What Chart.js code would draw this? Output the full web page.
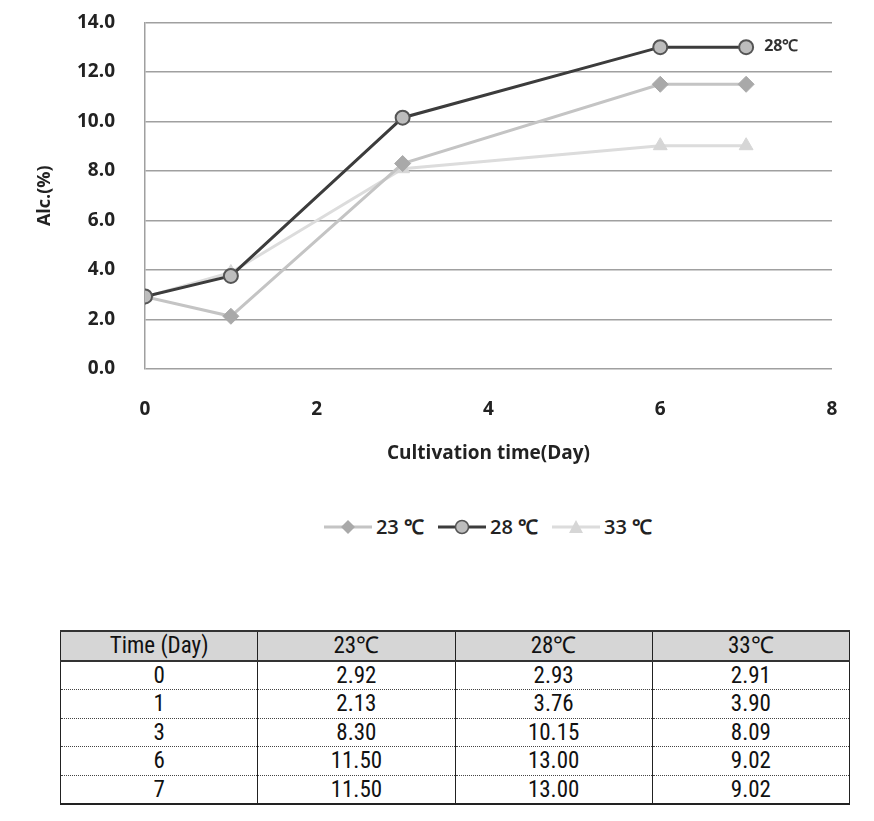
<!DOCTYPE html>
<html>
<head>
<meta charset="utf-8">
<script src="https://cdn.jsdelivr.net/npm/chart.js@4"></script>
<style>
  html, body { margin: 0; padding: 0; background: #fff; }
  body { width: 874px; height: 821px; position: relative; overflow: hidden; font-family: "Open Sans", sans-serif; }
  #chartBox { position: absolute; left: 0; top: -19px; width: 874px; height: 488px; }
  #legend { position: absolute; top: 513px; left: 0; width: 874px; display: flex; justify-content: center; gap: 12px; padding-left: 100px; box-sizing: border-box; }
  .legend-item { display: flex; align-items: center; font-size: 20px; font-weight: 600; color: #222; }
  .legend-item svg { margin-right: 2px; }
  #dataTable { position: absolute; left: 60px; top: 630px; width: 790px; border-collapse: collapse; table-layout: fixed;
    font-family: "Liberation Sans Narrow", "Arial Narrow", "Roboto Condensed", sans-serif; font-stretch: condensed; font-size: 23px; line-height: 1; color: #111; }
  #dataTable th, #dataTable td { text-align: center; padding: 0; height: 27.5px; border-left: 1.5px solid #222; border-right: 1.5px solid #222; font-weight: normal; }
  #dataTable th { background: #d6d6d6; border-top: 2px solid #333; border-bottom: 2px solid #333; }
  #dataTable td { border-bottom: 1.5px dotted #444; }
  #dataTable tr:last-child td { border-bottom: 2px solid #222; }
</style>
</head>
<body>
<div id="chartBox"><canvas id="alcChart" width="874" height="488"></canvas></div>
<div id="legend"></div>
<table id="dataTable"></table>
<script>
// ===== Data =====
const days = [0, 1, 3, 6, 7];
const temps = ['23℃', '28℃', '33℃'];
const alc23 = [2.92, 2.13, 8.30, 11.50, 11.50];
const alc28 = [2.93, 3.76, 10.15, 13.00, 13.00];
const alc33 = [2.91, 3.90, 8.09, 9.02, 9.02];
const yTicks = [0, 2, 4, 6, 8, 10, 12, 14];
const xTicks = [0, 2, 4, 6, 8];

const series = [
  { label: '23 ℃', values: alc23, line: '#c4c4c4', point: '#a9a9a9', border: '#a9a9a9', style: 'rectRot', order: 1 },
  { label: '28 ℃', values: alc28, line: '#3c3c3c', point: '#bdbdbd', border: '#555', style: 'circle', order: 0 },
  { label: '33 ℃', values: alc33, line: '#dcdcdc', point: '#d6d6d6', border: '#d6d6d6', style: 'triangle', order: 2 },
];

const FONT = "'Open Sans', sans-serif";

// ===== Label beside last 28℃ point =====
const endLabel = {
  id: 'endLabel',
  afterDatasetsDraw(chart) {
    const meta = chart.getDatasetMeta(1);
    const pt = meta.data[meta.data.length - 1];
    const ctx = chart.ctx;
    ctx.save();
    ctx.font = `bold 16px ${FONT}`;
    ctx.fillStyle = '#333';
    ctx.textBaseline = 'middle';
    ctx.fillText('28℃', pt.x + 18, pt.y - 1);
    ctx.restore();
  },
};

function renderChart() {
  const canvas = document.getElementById('alcChart');
  new Chart(canvas, {
    type: 'line',
    data: {
      datasets: series.map((s) => ({
        label: s.label,
        data: days.map((d, i) => ({ x: d, y: s.values[i] })),
        borderColor: s.line,
        borderWidth: 3,
        backgroundColor: s.point,
        pointBackgroundColor: s.point,
        pointBorderColor: s.border,
        pointBorderWidth: s.style === 'circle' ? 2 : 1,
        pointStyle: s.style,
        pointRadius: s.style === 'circle' ? 7 : 8,
        tension: 0,
        order: s.order,
      })),
    },
    options: {
      responsive: false,
      animation: false,
      layout: { padding: { left: 30, right: 42, top: 4, bottom: 0 } },
      plugins: { legend: { display: false }, tooltip: { enabled: false } },
      scales: {
        x: {
          type: 'linear',
          min: 0,
          max: 8,
          afterBuildTicks: (scale) => { scale.ticks = xTicks.map((v) => ({ value: v })); },
          afterFit: (scale) => { scale.height = 100; },
          grid: { display: false },
          border: { display: false },
          ticks: { padding: 21, color: '#222', font: { family: FONT, size: 19, weight: 'bold' } },
          title: { display: true, text: 'Cultivation time(Day)', color: '#222', padding: { top: 8 }, font: { family: FONT, size: 19, weight: 'bold' } },
        },
        y: {
          min: 0,
          max: 14,
          afterBuildTicks: (scale) => { scale.ticks = yTicks.map((v) => ({ value: v })); },
          afterFit: (scale) => { scale.width = 115; },
          grid: { color: '#a0a0a0', lineWidth: 1.5, drawTicks: false },
          border: { display: true, color: '#a0a0a0', width: 1.5 },
          ticks: { padding: 30, color: '#222', callback: (v) => v.toFixed(1), font: { family: FONT, size: 19, weight: 'bold' } },
          title: { display: true, text: 'Alc.(%)', color: '#222', padding: { bottom: 0 }, font: { family: FONT, size: 18, weight: 'bold' } },
        },
      },
    },
    plugins: [endLabel],
  });
}

// ===== Legend (line + marker) =====
function markerSvg(s) {
  let mark = '';
  if (s.style === 'rectRot') mark = `<polygon points="26,3 33,10 26,17 19,10" fill="${s.point}"/>`;
  else if (s.style === 'circle') mark = `<circle cx="26" cy="10" r="6.5" fill="${s.point}" stroke="${s.border}" stroke-width="1.5"/>`;
  else mark = `<polygon points="26,3 33,16 19,16" fill="${s.point}"/>`;
  return `<svg width="52" height="20"><line x1="2" y1="10" x2="50" y2="10" stroke="${s.line}" stroke-width="3"/>${mark}</svg>`;
}

function renderLegend() {
  document.getElementById('legend').innerHTML = series
    .map((s) => `<div class="legend-item">${markerSvg(s)}<span>${s.label}</span></div>`)
    .join('');
}

// ===== Table =====
function renderTable() {
  const head = `<tr><th>Time (Day)</th>${temps.map((t) => `<th>${t}</th>`).join('')}</tr>`;
  const rows = days
    .map((d, i) => `<tr><td>${d}</td><td>${alc23[i].toFixed(2)}</td><td>${alc28[i].toFixed(2)}</td><td>${alc33[i].toFixed(2)}</td></tr>`)
    .join('');
  document.getElementById('dataTable').innerHTML = head + rows;
}

renderChart();
renderLegend();
renderTable();
</script>
</body>
</html>
